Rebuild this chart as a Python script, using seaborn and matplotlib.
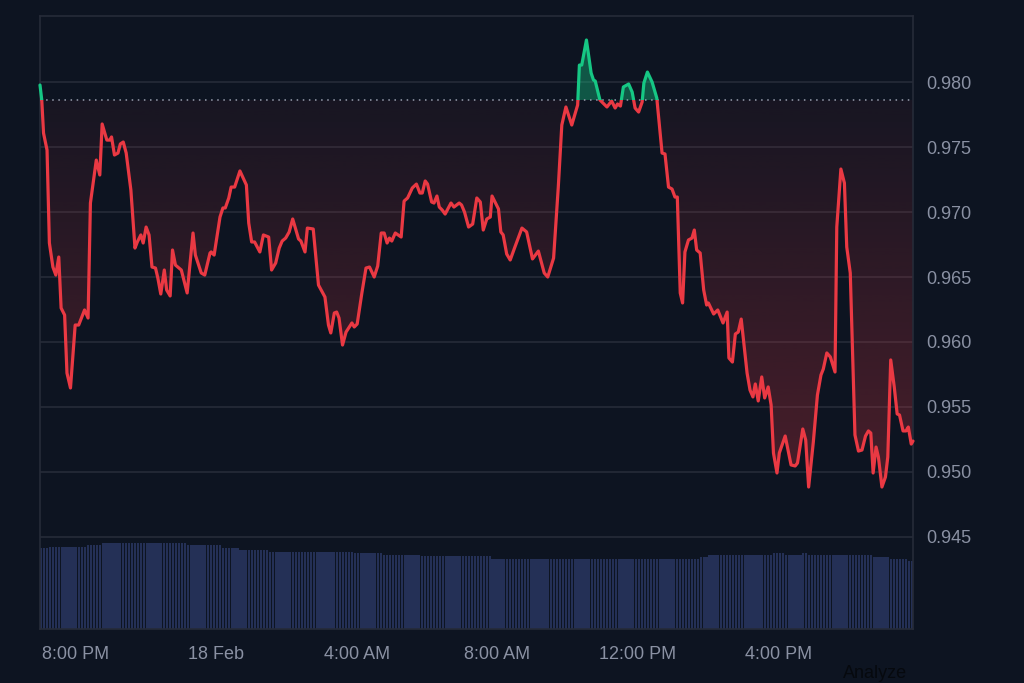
import numpy as np
import pandas as pd
import seaborn as sns
import matplotlib.pyplot as plt
import matplotlib.dates as mdates
from matplotlib.path import Path
from matplotlib.patches import Rectangle

# price samples, minutes after 17 Feb 19:00
start = pd.Timestamp('2025-02-17 19:00')
minutes = [0, 3, 6, 12, 16, 22, 27, 32, 36, 42,
           46, 52, 60, 66, 76, 82, 86, 96, 102, 106,
           114, 119, 122, 127, 133, 137, 142, 147, 155, 162,
           166, 172, 176, 181, 186, 191, 197, 201, 206, 212,
           216, 222, 226, 231, 241, 251, 261, 265, 275, 281,
           290, 292, 297, 307, 312, 316, 322, 326, 332, 341,
           352, 356, 361, 366, 375, 381, 390, 395, 402, 408,
           413, 419, 425, 431, 441, 445, 452, 456, 466, 475,
           486, 492, 496, 502, 506, 510, 516, 522, 532, 536,
           541, 549, 556, 562, 570, 576, 582, 587, 592, 596,
           600, 606, 616, 621, 627, 635, 642, 648, 652, 657,
           661, 668, 672, 677, 681, 686, 691, 701, 706, 715,
           719, 724, 731, 738, 745, 751, 756, 762, 768, 771,
           782, 786, 790, 796, 802, 810, 822, 830, 840, 850,
           860, 866, 876, 884, 890, 897, 907, 917, 920, 924,
           932, 940, 944, 947, 955, 967, 975, 981, 985, 990,
           995, 1004, 1010, 1015, 1021, 1027, 1030, 1036, 1044, 1052,
           1061, 1066, 1072, 1078, 1083, 1087, 1092, 1096, 1100, 1106,
           1112, 1116, 1120, 1126, 1132, 1137, 1140, 1149, 1156, 1165,
           1172, 1175, 1181, 1186, 1191, 1196, 1206, 1211, 1216, 1220,
           1225, 1231, 1236, 1242, 1247, 1251, 1257, 1261, 1271, 1281,
           1288, 1292, 1301, 1306, 1311, 1319, 1326, 1332, 1336, 1342,
           1348, 1356, 1359, 1366, 1372, 1376, 1382, 1390, 1396, 1402,
           1408, 1413, 1417, 1421, 1426, 1430, 1436, 1442, 1446, 1451,
           1457, 1462, 1466, 1472, 1477, 1481, 1486, 1489]
price = [0.97979, 0.97864, 0.97609, 0.97478, 0.96762, 0.96577, 0.96515, 0.96654, 0.96261, 0.96207,
         0.95760, 0.95645, 0.96130, 0.96130, 0.96246, 0.96184, 0.97070, 0.97401, 0.97286, 0.97679,
         0.97555, 0.97555, 0.97579, 0.97440, 0.97455, 0.97525, 0.97540, 0.97455, 0.97170, 0.96723,
         0.96770, 0.96824, 0.96762, 0.96885, 0.96824, 0.96577, 0.96569, 0.96492, 0.96369, 0.96554,
         0.96400, 0.96354, 0.96708, 0.96592, 0.96554, 0.96377, 0.96839, 0.96669, 0.96531, 0.96515,
         0.96685, 0.96693, 0.96669, 0.96962, 0.97032, 0.97032, 0.97109, 0.97193, 0.97193, 0.97317,
         0.97209, 0.96916, 0.96770, 0.96770, 0.96693, 0.96824, 0.96808, 0.96554, 0.96608, 0.96723,
         0.96777, 0.96800, 0.96847, 0.96947, 0.96793, 0.96777, 0.96693, 0.96877, 0.96870, 0.96438,
         0.96346, 0.96130, 0.96069, 0.96223, 0.96230, 0.96184, 0.95976, 0.96076, 0.96146, 0.96115,
         0.96138, 0.96377, 0.96569, 0.96577, 0.96500, 0.96585, 0.96839, 0.96839, 0.96762, 0.96800,
         0.96777, 0.96839, 0.96808, 0.97085, 0.97109, 0.97186, 0.97216, 0.97147, 0.97147, 0.97240,
         0.97216, 0.97078, 0.97070, 0.97124, 0.97039, 0.97016, 0.96985, 0.97070, 0.97039, 0.97070,
         0.97055, 0.97001, 0.96885, 0.96908, 0.97109, 0.97078, 0.96862, 0.96947, 0.96962, 0.97124,
         0.97024, 0.96847, 0.96824, 0.96677, 0.96631, 0.96731, 0.96877, 0.96847, 0.96639, 0.96700,
         0.96531, 0.96500, 0.96646, 0.97193, 0.97671, 0.97810, 0.97671, 0.97825, 0.98133, 0.98133,
         0.98326, 0.98072, 0.98018, 0.98010, 0.97864, 0.97810, 0.97856, 0.97802, 0.97833, 0.97817,
         0.97964, 0.97987, 0.97925, 0.97802, 0.97771, 0.97848, 0.97995, 0.98079, 0.98002, 0.97879,
         0.97455, 0.97448, 0.97193, 0.97178, 0.97116, 0.97116, 0.96377, 0.96300, 0.96693, 0.96785,
         0.96800, 0.96862, 0.96708, 0.96685, 0.96400, 0.96284, 0.96300, 0.96215, 0.96246, 0.96146,
         0.96230, 0.95876, 0.95845, 0.96061, 0.96076, 0.96176, 0.95760, 0.95629, 0.95576, 0.95676,
         0.95545, 0.95730, 0.95568, 0.95653, 0.95514, 0.95144, 0.94990, 0.95144, 0.95275, 0.95052,
         0.95044, 0.95067, 0.95329, 0.95244, 0.94882, 0.95229, 0.95591, 0.95745, 0.95791, 0.95915,
         0.95884, 0.95768, 0.96885, 0.97332, 0.97224, 0.96731, 0.96531, 0.95283, 0.95159, 0.95167,
         0.95275, 0.95314, 0.95298, 0.94990, 0.95190, 0.95113, 0.94882, 0.94959, 0.95113, 0.95861,
         0.95653, 0.95445, 0.95437, 0.95314, 0.95314, 0.95344, 0.95213, 0.95236]
baseline = 0.97864

# volume bars every 5 minutes, as runs of equal height
vol_levels = [81.0, 82.3, 84.0, 85.7, 84.0, 80.7, 79.0, 77.0, 75.7, 74.0, 72.5,
              70.0, 71.7, 74.0, 75.7, 74.0, 75.7, 74.0, 72.0, 70.0, 68.3]
vol_counts = [3, 13, 5, 29, 12, 6, 10, 29, 10, 13, 24,
              71, 3, 22, 4, 6, 2, 22, 6, 6, 2]

y_ticks = [0.945, 0.950, 0.955, 0.960, 0.965, 0.970, 0.975, 0.980]
x_tick_minutes = [60, 300, 540, 780, 1020, 1260]
x_tick_labels = ['8:00 PM', '18 Feb', '4:00 AM', '8:00 AM', '12:00 PM', '4:00 PM']

bg = '#0d1421'
grid_c = '#262b38'
text_c = '#8a91a3'
red = '#ea3943'
green = '#16c784'

df = pd.DataFrame({'time': start + pd.to_timedelta(minutes, unit='min'), 'price': price})
vol = np.repeat(vol_levels, vol_counts)
vol_time = start + pd.to_timedelta(np.arange(len(vol)) * 5, unit='min')

sns.set_theme(style='dark')
plt.rcParams['font.family'] = ['Liberation Sans', 'DejaVu Sans']

fig = plt.figure(figsize=(10.24, 6.83), dpi=100, facecolor=bg)
ax2 = fig.add_axes([40 / 1024, 1 - 629 / 683, 873 / 1024, 613 / 683])
ax = fig.add_axes(ax2.get_position(), sharex=ax2)
ax2.set_facecolor(bg)
ax.patch.set_alpha(0)

# volume
ax2.bar(vol_time, vol, width=5 / 1440 * 0.78, align='edge', color='#243056', linewidth=0)
ax2.set_ylim(0, max(vol) / 0.14)
ax2.set_yticks([])
for s in ax2.spines.values():
    s.set_visible(False)

# price line, red below baseline and green above
t0 = mdates.date2num(df['time'].iloc[0])
t1 = mdates.date2num(df['time'].iloc[-1])
ylo, yhi = 0.93788, 0.98511

sns.lineplot(data=df, x='time', y='price', ax=ax, color=red, linewidth=2.3,
             estimator=None, sort=False, zorder=4)
ax.lines[-1].set_clip_path(Rectangle((t0 - 1, ylo), 3, baseline - ylo, transform=ax.transData))
sns.lineplot(data=df, x='time', y='price', ax=ax, color=green, linewidth=2.3,
             estimator=None, sort=False, zorder=4)
ax.lines[-1].set_clip_path(Rectangle((t0 - 1, baseline), 3, 1, transform=ax.transData))

p = df['price'].to_numpy()
red_fill = ax.fill_between(df['time'], p, baseline, where=p < baseline, interpolate=True,
                           facecolor='none', edgecolor='none')
ax.fill_between(df['time'], p, baseline, where=p > baseline, interpolate=True,
                facecolor=green, alpha=0.38, edgecolor='none', zorder=3)

grad = np.zeros((256, 1, 4))
grad[:, 0, :3] = plt.matplotlib.colors.to_rgb(red)
grad[:, 0, 3] = np.linspace(0.36, 0.05, 256)
im = ax.imshow(grad, extent=[t0, t1, ylo, baseline], aspect='auto', origin='lower', zorder=2)
im.set_clip_path(Path.make_compound_path(*red_fill.get_paths()), transform=ax.transData)

ax.axhline(baseline, color='#9aa0b0', linestyle=(0, (1, 3)), linewidth=1.1, zorder=3)

ax.set_xlim(df['time'].iloc[0], df['time'].iloc[-1])
ax.set_ylim(ylo, yhi)
ax.set_xlabel('')
ax.set_ylabel('')

ax.yaxis.tick_right()
ax.set_yticks(y_ticks)
ax.set_yticklabels([f'{v:.3f}' for v in y_ticks])
ax.set_xticks(start + pd.to_timedelta(x_tick_minutes, unit='min'))
ax.set_xticklabels(x_tick_labels)
ax.tick_params(axis='both', length=0, labelsize=13, labelcolor=text_c)
ax.tick_params(axis='x', pad=12.5)
ax.tick_params(axis='y', pad=9.5)
ax2.tick_params(axis='x', length=0, labelbottom=False)

ax.grid(False)
ax2.grid(False)
for v in y_ticks:
    ax.axhline(v, color=grid_c, linewidth=1.2, zorder=1)
for s in ax.spines.values():
    s.set_visible(True)
    s.set_color(grid_c)
    s.set_linewidth(1.2)

fig.text(843 / 1024, 1 - 673 / 683, 'Analyze', color='#06090e', fontsize=13, va='center')

fig.savefig('out.png', dpi=100, facecolor=bg)
